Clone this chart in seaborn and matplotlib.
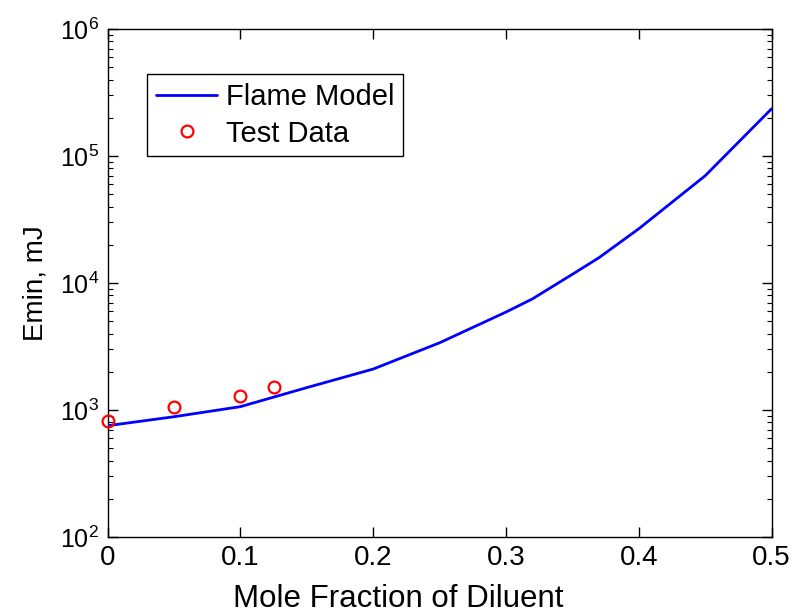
import matplotlib
matplotlib.use("Agg")
import matplotlib.pyplot as plt
import seaborn as sns
import pandas as pd
import numpy as np
from matplotlib.ticker import LogLocator, FixedLocator

# Flame model curve
model_x = [0.0, 0.05, 0.10, 0.15, 0.20, 0.25, 0.30, 0.32, 0.35, 0.37, 0.40, 0.45, 0.50]
model_y = [752, 885, 1062, 1500, 2100, 3380, 5900, 7500, 11700, 15800, 26700, 69800, 235000]

# Test data
test_x = [0.0, 0.05, 0.10, 0.125]
test_y = [824, 1062, 1296, 1527]

x_ticks = [0, 0.1, 0.2, 0.3, 0.4, 0.5]
x_tick_labels = ["0", "0.1", "0.2", "0.3", "0.4", "0.5"]

sns.set_style("white")
plt.rcParams['font.family'] = ['Liberation Sans', 'DejaVu Sans']
plt.rcParams['mathtext.fontset'] = 'custom'
plt.rcParams['mathtext.rm'] = 'Liberation Sans'
plt.rcParams['mathtext.it'] = 'Liberation Sans'
plt.rcParams['mathtext.default'] = 'regular'
plt.rcParams['text.color'] = 'black'
plt.rcParams['axes.labelcolor'] = 'black'

fig = plt.figure(figsize=(8.06, 6.14), dpi=100)
ax = fig.add_axes([0.1334, 0.1254, 0.8238, 0.8274])

df_model = pd.DataFrame({"x": model_x, "y": model_y})
df_test = pd.DataFrame({"x": test_x, "y": test_y})

sns.lineplot(data=df_model, x="x", y="y", ax=ax, color=(0, 0, 1), linewidth=2.0,
             label="Flame Model", zorder=3)
ax.plot(df_test["x"], df_test["y"], linestyle="none", marker="o", markersize=8.5,
        markerfacecolor="none", markeredgecolor=(1, 0, 0), markeredgewidth=1.6,
        label="Test Data", zorder=4, clip_on=False)

ax.set_yscale("log")
ax.set_xlim(0, 0.5)
ax.set_ylim(1e2, 1e6)
ax.xaxis.set_major_locator(FixedLocator(x_ticks))
ax.set_xticklabels(x_tick_labels)
ax.yaxis.set_major_locator(LogLocator(base=10, numticks=10))
ax.yaxis.set_minor_locator(LogLocator(base=10, subs=np.arange(2, 10), numticks=20))

for s in ax.spines.values():
    s.set_visible(True)
    s.set_color("black")
    s.set_linewidth(1.0)

ax.tick_params(axis="both", which="both", direction="in", top=True, right=True,
               bottom=True, left=True, colors="black")
ax.tick_params(axis="x", which="major", labelsize=20, length=7, width=1.0, pad=6)
ax.tick_params(axis="y", which="major", labelsize=18, length=7, width=1.0, pad=6)
ax.tick_params(axis="y", which="minor", length=3.5, width=0.8)
ax.tick_params(axis="x", which="minor", length=0)

ax.set_xlabel("Mole Fraction of Diluent", fontsize=22.5)
ax.xaxis.label.set_va("baseline")
ax.xaxis.set_label_coords(0.4375, -0.1378)
ax.set_ylabel("Emin, mJ", fontsize=20, labelpad=8)

leg = ax.legend(loc="upper left", bbox_to_anchor=(0.06, 0.911), borderaxespad=0,
                fontsize=21, frameon=True, fancybox=False, edgecolor="black",
                framealpha=1, handlelength=2.1, handletextpad=0.3,
                borderpad=0.3, labelspacing=0.3)
leg.get_frame().set_linewidth(1.0)
for t in leg.get_texts():
    t.set_color("black")

fig.savefig("out.png", dpi=100)
